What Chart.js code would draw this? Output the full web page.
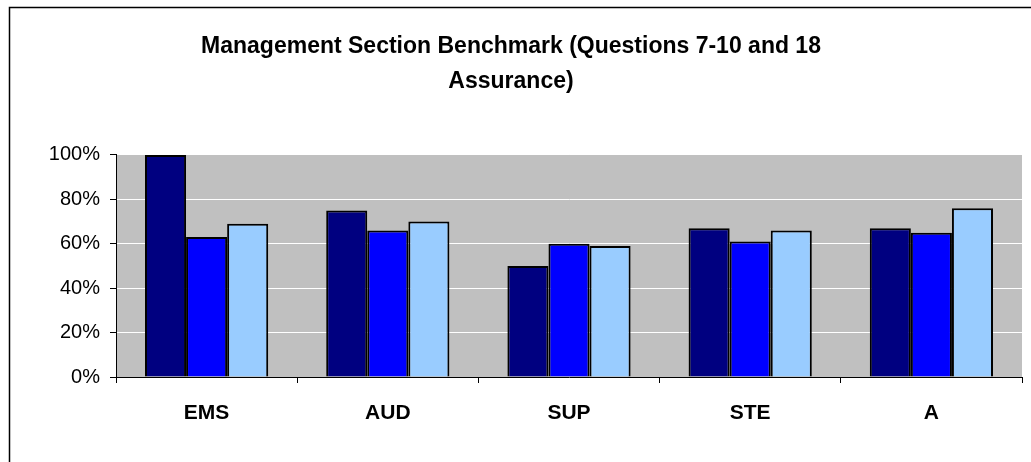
<!DOCTYPE html>
<html>
<head>
<meta charset="utf-8">
<script src="https://cdn.jsdelivr.net/npm/chart.js@4"></script>
<style>
  html, body { margin: 0; padding: 0; background: #fff; }
  #wrap { width: 1031px; height: 462px; }
</style>
</head>
<body>
<div id="wrap"><canvas id="benchCanvas" width="1031" height="462"></canvas></div>
<script>
var categories = ['EMS', 'AUD', 'SUP', 'STE', 'A'];
var series1 = [100, 75, 50, 67, 67];
var series2 = [63, 66, 60, 61, 65];
var series3 = [69, 70, 59, 66, 76];
var titleLines = ['Management Section Benchmark (Questions 7-10 and 18', 'Assurance)'];

// gray plot area + frame line like the excel export
var frame = {
    id: 'frame',
    beforeDraw: function (chart) {
        var c = chart.ctx;
        var a = chart.chartArea;
        c.save();
        c.fillStyle = '#ffffff';
        c.fillRect(0, 0, chart.width, chart.height);
        c.fillStyle = '#c0c0c0';
        c.fillRect(a.left, a.top, a.right - a.left, a.bottom - a.top);
        c.strokeStyle = '#000000';
        c.lineWidth = 1.5;
        c.beginPath();
        c.moveTo(9.5, chart.height + 2);
        c.lineTo(9.5, 7.5);
        c.lineTo(chart.width + 2, 7.5);
        c.stroke();
        c.restore();
    }
};

var ctx = document.getElementById('benchCanvas');
var benchChart = new Chart(ctx, {
    type: 'bar',
    data: {
        labels: categories,
        datasets: [
            { data: series1, backgroundColor: '#000080' },
            { data: series2, backgroundColor: '#0000ff' },
            { data: series3, backgroundColor: '#99ccff' }
        ]
    },
    options: {
        responsive: false,
        animation: false,
        layout: { padding: { left: 0, right: 9, top: 0, bottom: 0 } },
        datasets: {
            bar: {
                borderColor: '#000000',
                borderWidth: 2,
                categoryPercentage: 0.68,
                barPercentage: 1
            }
        },
        plugins: {
            legend: { display: false },
            tooltip: { enabled: false },
            title: {
                display: true,
                text: titleLines,
                color: '#000000',
                font: { family: 'Liberation Sans', size: 23, weight: 'bold', lineHeight: 1.52 },
                padding: { top: 29, bottom: 56 }
            }
        },
        scales: {
            x: {
                grid: { drawOnChartArea: false, drawTicks: true, tickLength: 6, tickColor: '#000000' },
                border: { color: '#000000', width: 1 },
                ticks: {
                    color: '#000000',
                    padding: 18,
                    font: { family: 'Liberation Sans', size: 21, weight: 'bold' }
                },
                afterFit: function (scale) { scale.height = 85; }
            },
            y: {
                min: 0,
                max: 100,
                grid: { color: '#ffffff', lineWidth: 1, tickLength: 6, tickColor: '#000000' },
                border: { color: '#000000', width: 1 },
                ticks: {
                    stepSize: 20,
                    color: '#000000',
                    padding: 10,
                    font: { family: 'Liberation Sans', size: 20 },
                    callback: function (v) { return v + '%'; }
                },
                afterFit: function (scale) { scale.width = 116; }
            }
        }
    },
    plugins: [frame]
});
</script>
</body>
</html>
